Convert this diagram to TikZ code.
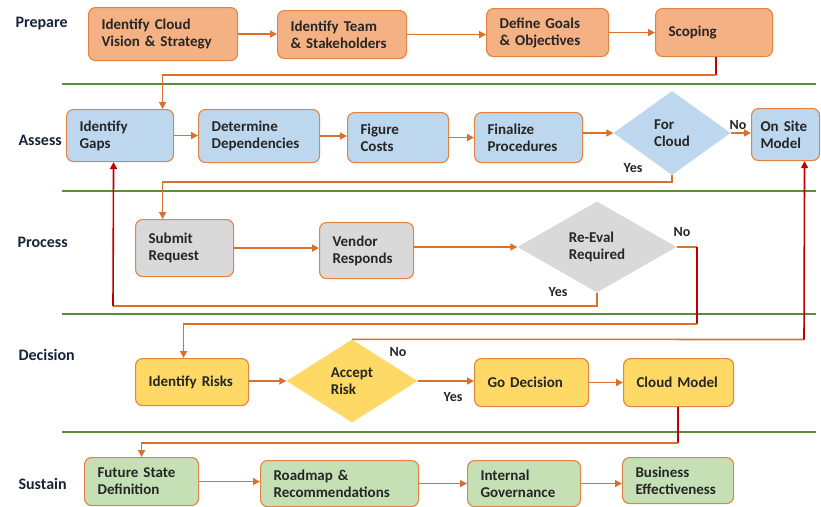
\documentclass[tikz,border=0pt]{standalone}
\usepackage{fontspec}
\setmainfont{Carlito}
\usepackage{xcolor}
\usetikzlibrary{shapes.geometric, arrows.meta}

\definecolor{prepfill}{HTML}{F4B183}
\definecolor{assessfill}{HTML}{BDD7EE}
\definecolor{procfill}{HTML}{D9D9D9}
\definecolor{decfill}{HTML}{FFD966}
\definecolor{sustfill}{HTML}{C5E0B4}
\definecolor{boxline}{HTML}{E3833F}
\definecolor{flowline}{HTML}{D9702C}
\definecolor{backline}{HTML}{C00000}
\definecolor{laneline}{HTML}{5B8C3A}
\definecolor{lanetext}{HTML}{18223A}
\definecolor{boxtext}{HTML}{262626}

\begin{document}
\begin{tikzpicture}[x=1pt, y=-1pt,
    box/.style={rounded corners=7pt, draw=boxline, line width=1.1pt, align=left,
        anchor=north west, inner xsep=13pt, inner ysep=0pt,
        font=\bfseries\fontsize{15}{17}\selectfont, text=boxtext},
    prep/.style={box, fill=prepfill},
    assess/.style={box, fill=assessfill},
    proc/.style={box, fill=procfill},
    decide/.style={box, fill=decfill},
    sust/.style={box, fill=sustfill},
    choice/.style={diamond, inner sep=0pt, align=left,
        font=\bfseries\fontsize{15}{17}\selectfont, text=boxtext},
    lane/.style={anchor=west, text=lanetext, font=\bfseries\fontsize{16}{18}\selectfont},
    note/.style={text=boxtext, font=\bfseries\fontsize{14}{16}\selectfont},
    line/.style={draw=flowline, line width=1.6pt},
    backln/.style={draw=backline, line width=1.6pt},
    flow/.style={line, -{Triangle[length=7pt,width=7pt]}},
    sep/.style={draw=laneline, line width=2.2pt}]

    \useasboundingbox (0,0) rectangle (821,506);

    % Lanes
    \draw[sep] (62,84) -- (816,84);
    \draw[sep] (62,191) -- (816,191);
    \draw[sep] (62,314) -- (816,314);
    \draw[sep] (62,432) -- (816,432);
    \node[lane] (lprep) at (12,24) {Prepare};
    \node[lane] (lassess) at (15,140) {Assess};
    \node[lane] (lproc) at (14,242) {Process};
    \node[lane] (ldec) at (15,355) {Decision};
    \node[lane] (lsust) at (15,484) {Sustain};

    % Prepare
    \node[prep, minimum width=149pt, minimum height=53pt, text width=123pt] (vision) at (88,7) {Identify Cloud\\Vision \& Strategy};
    \node[prep, minimum width=129pt, minimum height=48pt, text width=103pt] (team) at (277,10) {Identify Team\\\& Stakeholders};
    \node[prep, minimum width=122pt, minimum height=48pt, text width=96pt] (goals) at (486,8) {Define Goals\\\& Objectives};
    \node[prep, minimum width=117pt, minimum height=48pt, text width=91pt] (scoping) at (655,8) {Scoping};

    % Assess
    \node[assess, minimum width=107pt, minimum height=52pt, text width=81pt] (gaps) at (66,109) {Identify\\Gaps};
    \node[assess, minimum width=121pt, minimum height=53pt, text width=95pt] (deps) at (198,109) {Determine\\Dependencies};
    \node[assess, minimum width=101pt, minimum height=50pt, text width=75pt] (costs) at (347,112) {Figure\\Costs};
    \node[assess, minimum width=108pt, minimum height=50pt, text width=82pt] (finalize) at (474,112) {Finalize\\Procedures};
    \node[choice, fill=assessfill, minimum width=117pt, minimum height=84pt] (forcloud) at (672,133) {For\\Cloud};
    \node[assess, minimum width=68pt, minimum height=52pt, text width=50pt, inner xsep=9pt] (onsite) at (751,108) {On Site\\Model};

    % Process
    \node[proc, minimum width=98pt, minimum height=57pt, text width=72pt] (submit) at (135,219) {Submit\\Request};
    \node[proc, minimum width=94pt, minimum height=56pt, text width=68pt] (vendor) at (319,222) {Vendor\\Responds};
    \node[choice, fill=procfill, minimum width=159pt, minimum height=91pt] (reeval) at (597,247) {Re-Eval\\Required};

    % Decision
    \node[decide, minimum width=113pt, minimum height=47pt, text width=87pt] (risks) at (135,358) {Identify Risks};
    \node[choice, fill=decfill, minimum width=131pt, minimum height=83pt] (accept) at (352,381) {Accept\\Risk};
    \node[decide, minimum width=114pt, minimum height=48pt, text width=88pt] (godec) at (474,358) {Go Decision};
    \node[decide, minimum width=110pt, minimum height=48pt, text width=84pt] (cloud) at (623,358) {Cloud Model};

    % Sustain
    \node[sust, minimum width=114pt, minimum height=48pt, text width=88pt] (future) at (84,457) {Future State\\Definition};
    \node[sust, minimum width=158pt, minimum height=46pt, text width=132pt] (roadmap) at (260,460) {Roadmap \&\\Recommendations};
    \node[sust, minimum width=113pt, minimum height=46pt, text width=87pt] (internal) at (467,460) {Internal\\Governance};
    \node[sust, minimum width=111pt, minimum height=46pt, text width=85pt] (business) at (622,457) {Business\\Effectiveness};

    % Prepare flow
    \draw[flow] (vision.east) -- (vision.east -| team.west);
    \draw[flow] (team.east) -- (team.east -| goals.west);
    \draw[flow] (goals.east) -- (goals.east -| scoping.west);
    \coordinate (sc) at (716,75);
    \draw[backln] (scoping.south -| sc) -- (sc);
    \draw[flow] (sc) -| ([xshift=42.5pt]gaps.north);

    % Assess flow
    \draw[flow] (gaps.east) -- (gaps.east -| deps.west);
    \draw[flow] (deps.east) -- (deps.east -| costs.west);
    \draw[flow] (costs.east) -- (costs.east -| finalize.west);
    \draw[flow] (finalize.east |- forcloud.west) -- (forcloud.west);
    \draw[flow] (forcloud.east) -- (forcloud.east -| onsite.west);
    \node[note] (no1) at (738,125) {No};
    \draw[flow] (forcloud.south) -- ++(0,7) -| ([xshift=-22pt]submit.north);
    \node[note] (yes1) at (633,168) {Yes};

    % Process flow
    \draw[flow] (submit.east) -- (submit.east -| vendor.west);
    \draw[flow] (vendor.east |- reeval.west) -- (reeval.west);
    \coordinate (ry) at (113,306);
    \draw[line] (reeval.south) |- (ry);
    \draw[backln, -{Triangle[length=7pt,width=7pt]}] (ry) -- ([xshift=-6.5pt]gaps.south);
    \node[note] (yes2) at (558,292) {Yes};
    \coordinate (rn1) at (697,247);
    \coordinate (rn2) at (697,324);
    \draw[line] (reeval.east) -- (rn1);
    \draw[backln] (rn1) -- (rn2);
    \draw[flow] (rn2) -| ([xshift=-8.5pt]risks.north);
    \node[note] (no2) at (682,232) {No};

    % Decision flow
    \draw[flow] (risks.east |- accept.west) -- (accept.west);
    \draw[flow] (accept.east) -- (accept.east -| godec.west);
    \node[note] (yes3) at (453,397) {Yes};
    \coordinate (an) at (804,339.5);
    \draw[line] (accept.north) -- (an);
    \draw[backln, -{Triangle[length=7pt,width=7pt]}] (an) -- ([xshift=19pt]onsite.south);
    \node[note] (no3) at (398,352) {No};
    \draw[flow] (godec.east) -- (godec.east -| cloud.west);
    \coordinate (cm) at (678,443);
    \draw[backln] (cloud.south -| cm) -- (cm);
    \draw[flow] (cm) -| (future.north);

    % Sustain flow
    \draw[flow] (future.east) -- (future.east -| roadmap.west);
    \draw[flow] (roadmap.east) -- (roadmap.east -| internal.west);
    \draw[flow] (internal.east) -- (internal.east -| business.west);

\end{tikzpicture}
\end{document}
